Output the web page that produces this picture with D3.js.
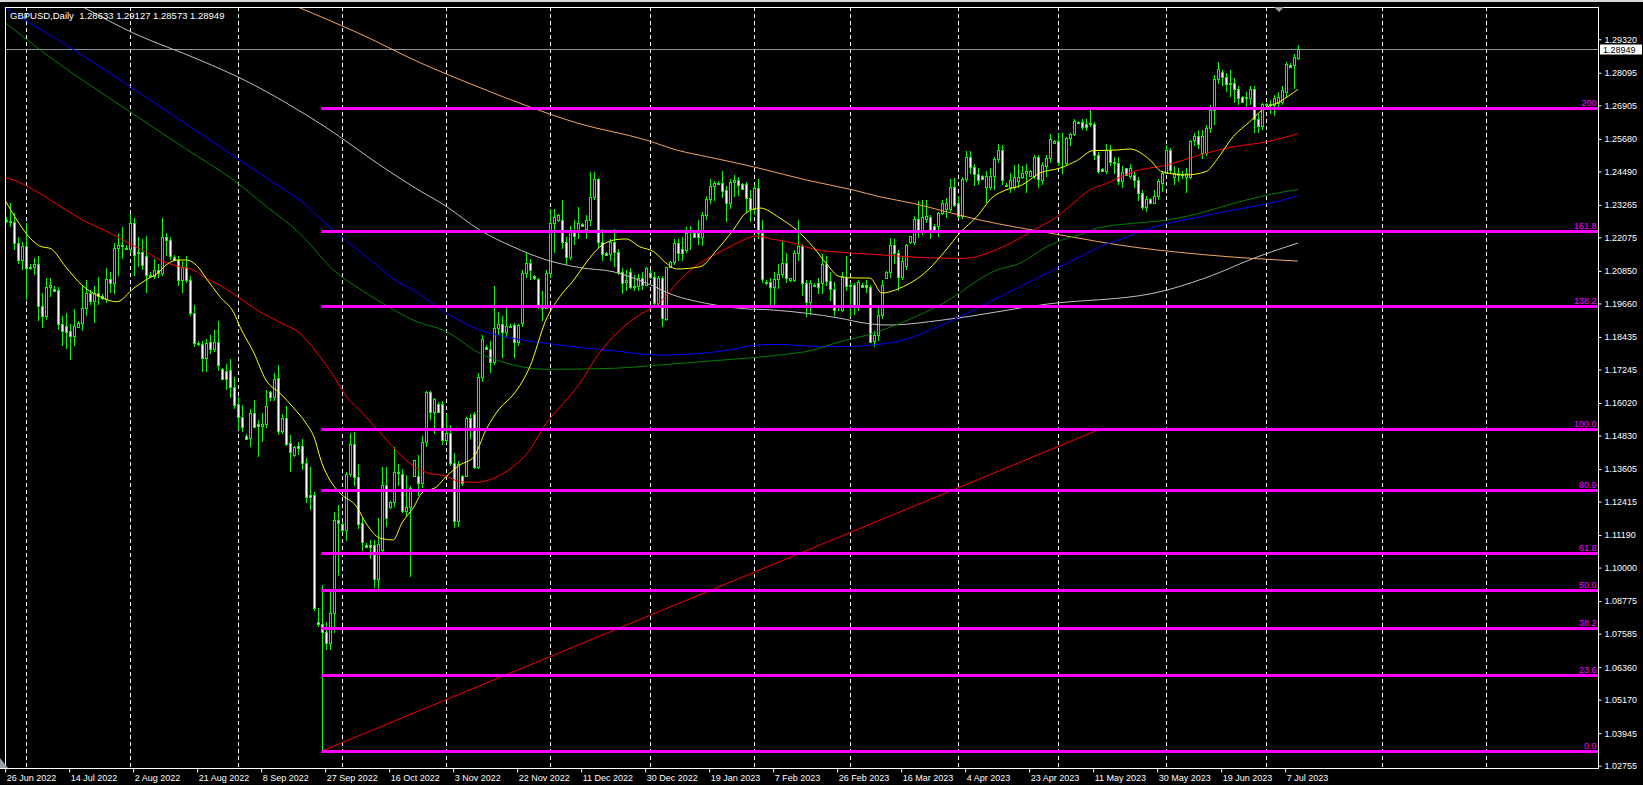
<!DOCTYPE html>
<html><head><meta charset="utf-8">
<script src="https://cdn.jsdelivr.net/npm/d3@7"></script>
<style>html,body{margin:0;padding:0;background:#000;overflow:hidden}</style>
</head><body><svg id="c" width="1643" height="785"></svg>
<script>
// ---------------- DATA ----------------
const symbolTitle = "GBPUSD,Daily";
const lastQuote = ["1.28633", "1.29127", "1.28573", "1.28949"];
const currentPrice = 1.28949;

const opens = [
1.2270,1.2268,1.2265,1.2186,1.2125,1.2177,1.2095,1.2101,1.2110,1.1956,1.1919,1.2026,
1.2020,1.2015,1.1890,1.1883,1.1865,1.1847,1.1880,1.1893,1.1950,1.2004,1.1974,1.2004,
1.1995,1.1982,1.2055,1.2040,1.2168,1.2180,1.2170,1.2165,1.2259,1.2150,1.2155,1.2140,
1.2070,1.2066,1.2089,1.2077,1.2210,1.2198,1.2135,1.2126,1.2052,1.2101,1.2052,1.1932,
1.1822,1.1818,1.1765,1.1825,1.1800,1.1825,1.1725,1.1720,1.1722,1.1661,1.1598,1.1549,
1.1481,1.1475,1.1565,1.1525,1.1518,1.1525,1.1643,1.1623,1.1692,1.1500,1.1546,1.1454,
1.1412,1.1444,1.1444,1.1383,1.1265,1.1265,1.0800,1.0793,1.0765,1.0723,1.0834,1.1174,
1.1159,1.1137,1.1341,1.1452,1.1330,1.1162,1.1082,1.1082,1.1082,1.0960,1.1064,1.1302,
1.1223,1.1241,1.1350,1.1342,1.1208,1.1223,1.1335,1.1335,1.1308,1.1458,1.1641,1.1568,
1.1598,1.1598,1.1466,1.1493,1.1381,1.1171,1.1335,1.1335,1.1546,1.1560,1.1369,1.1696,
1.1808,1.1798,1.1753,1.1875,1.1890,1.1860,1.1885,1.1887,1.1826,1.1893,1.2076,1.2115,
1.2065,1.2054,1.1960,1.1950,1.2076,1.2259,1.2270,1.2271,1.2192,1.2136,1.2234,1.2228,
1.2255,1.2240,1.2271,1.2356,1.2420,1.2192,1.2150,1.2148,1.2190,1.2155,1.2080,1.2045,
1.2082,1.2027,1.2030,1.2058,1.2035,1.2078,1.2064,1.1966,1.2058,1.1908,1.2098,1.2119,
1.2186,1.2164,1.2161,1.2222,1.2225,1.2222,1.2208,1.2289,1.2347,1.2395,1.2403,1.2405,
1.2381,1.2332,1.2411,1.2417,1.2403,1.2403,1.2350,1.2310,1.2387,1.2225,1.2043,1.2043,
1.2027,1.2054,1.2074,1.2115,1.2052,1.2052,1.2152,1.2176,1.2042,1.1972,1.2033,1.2040,
1.2040,1.2110,1.2048,1.2018,1.1956,1.1942,1.2064,1.2030,1.2033,1.1956,1.2033,1.2033,
1.2027,1.1830,1.1851,1.1924,1.2060,1.2082,1.2180,1.2152,1.2064,1.2103,1.2189,1.2189,
1.2275,1.2226,1.2275,1.2282,1.2250,1.2248,1.2297,1.2311,1.2311,1.2391,1.2333,1.2287,
1.2421,1.2500,1.2464,1.2440,1.2433,1.2392,1.2392,1.2433,1.2493,1.2527,1.2400,1.2392,
1.2392,1.2413,1.2428,1.2443,1.2433,1.2433,1.2500,1.2416,1.2469,1.2497,1.2554,1.2561,
1.2481,1.2481,1.2570,1.2585,1.2630,1.2630,1.2624,1.2627,1.2624,1.2509,1.2457,1.2452,
1.2527,1.2485,1.2481,1.2412,1.2460,1.2432,1.2436,1.2418,1.2371,1.2317,1.2347,1.2334,
1.2360,1.2405,1.2444,1.2527,1.2430,1.2444,1.2436,1.2430,1.2430,1.2562,1.2580,1.2515,
1.2515,1.2607,1.2674,1.2786,1.2813,1.2793,1.2773,1.2773,1.2749,1.2722,1.2716,1.2716,
1.2749,1.2640,1.2615,1.2694,1.2696,1.2692,1.2698,1.2704,1.2741,1.2838,1.2838,1.28633];

const highs = [
1.2282,1.2332,1.2295,1.2210,1.2190,1.2259,1.2110,1.2132,1.2140,1.2004,1.2059,1.2060,
1.2028,1.2025,1.1920,1.1932,1.1890,1.1944,1.1900,1.2034,1.2052,1.2016,1.2030,1.2064,
1.2000,1.2095,1.2080,1.2187,1.2220,1.2245,1.2180,1.2293,1.2280,1.2210,1.2200,1.2213,
1.2080,1.2130,1.2110,1.2277,1.2225,1.2210,1.2142,1.2140,1.2120,1.2140,1.2065,1.1960,
1.1828,1.1830,1.1835,1.1850,1.1870,1.1900,1.1730,1.1745,1.1763,1.1698,1.1625,1.1594,
1.1490,1.1580,1.1613,1.1540,1.1564,1.1648,1.1647,1.1712,1.1741,1.1560,1.1590,1.1485,
1.1445,1.1460,1.1470,1.1400,1.1369,1.1275,1.0851,1.0936,1.0800,1.0918,1.1204,1.1230,
1.1165,1.1350,1.1491,1.1495,1.1380,1.1180,1.1090,1.1100,1.1100,1.1180,1.1369,1.1369,
1.1245,1.1440,1.1380,1.1360,1.1340,1.1300,1.1395,1.1410,1.1480,1.1645,1.1645,1.1620,
1.1605,1.1610,1.1560,1.1520,1.1420,1.1390,1.1340,1.1550,1.1560,1.1570,1.1710,1.1850,
1.1815,1.1830,1.2030,1.1935,1.1920,1.1950,1.1890,1.1895,1.1890,1.2090,1.2150,1.2130,
1.2070,1.2060,1.2010,1.2090,1.2310,1.2310,1.2292,1.2345,1.2210,1.2250,1.2270,1.2320,
1.2262,1.2290,1.2445,1.2448,1.2425,1.2240,1.2155,1.2200,1.2240,1.2165,1.2095,1.2090,
1.2095,1.2070,1.2075,1.2080,1.2100,1.2090,1.2080,1.2065,1.2065,1.2100,1.2120,1.2200,
1.2200,1.2210,1.2245,1.2250,1.2230,1.2270,1.2300,1.2360,1.2420,1.2415,1.2412,1.2450,
1.2395,1.2420,1.2435,1.2430,1.2408,1.2410,1.2380,1.2400,1.2420,1.2270,1.2050,1.2060,
1.2080,1.2110,1.2195,1.2150,1.2060,1.2160,1.2270,1.2185,1.2050,1.2050,1.2040,1.2060,
1.2145,1.2140,1.2080,1.2045,1.1960,1.2080,1.2140,1.2045,1.2040,1.2050,1.2040,1.2050,
1.2035,1.1865,1.1960,1.2050,1.2085,1.2205,1.2200,1.2160,1.2140,1.2185,1.2212,1.2285,
1.2340,1.2345,1.2345,1.2290,1.2255,1.2300,1.2345,1.2350,1.2420,1.2425,1.2360,1.2430,
1.2525,1.2525,1.2475,1.2460,1.2436,1.2449,1.2460,1.2500,1.2549,1.2545,1.2405,1.2443,
1.2473,1.2476,1.2470,1.2476,1.2455,1.2510,1.2509,1.2485,1.2509,1.2585,1.2562,1.2590,
1.2590,1.2575,1.2590,1.2640,1.2632,1.2640,1.2640,1.2679,1.2630,1.2520,1.2460,1.2549,
1.2545,1.2500,1.2500,1.2470,1.2462,1.2475,1.2445,1.2430,1.2380,1.2360,1.2350,1.2380,
1.2420,1.2450,1.2545,1.2535,1.2470,1.2460,1.2450,1.2460,1.2565,1.2590,1.2600,1.2600,
1.2620,1.2690,1.2800,1.2848,1.2820,1.2810,1.2820,1.2790,1.2760,1.2725,1.2740,1.2760,
1.2760,1.2660,1.2700,1.2698,1.2710,1.2730,1.2740,1.2760,1.2850,1.2845,1.2880,1.29127];

const lows = [
1.2260,1.2245,1.2160,1.2110,1.2090,1.1980,1.2090,1.2070,1.1900,1.1876,1.1907,1.1990,
1.2008,1.1870,1.1811,1.1799,1.1760,1.1811,1.1875,1.1865,1.1919,1.1960,1.1893,1.1960,
1.1980,1.1968,1.2005,1.2000,1.2065,1.2130,1.2160,1.2150,1.2065,1.2100,1.2090,1.2004,
1.2062,1.2055,1.2060,1.2068,1.2140,1.2125,1.2120,1.2030,1.2005,1.2040,1.1920,1.1805,
1.1810,1.1717,1.1716,1.1780,1.1790,1.1720,1.1685,1.1650,1.1619,1.1580,1.1503,1.1497,
1.1465,1.1442,1.1510,1.1405,1.1460,1.1510,1.1610,1.1610,1.1485,1.1490,1.1445,1.1350,
1.1405,1.1410,1.1357,1.1235,1.1210,1.0840,1.0784,1.0330,1.0700,1.0700,1.0760,1.0970,
1.1130,1.1098,1.1330,1.1300,1.1140,1.1060,1.1070,1.1030,1.0925,1.0920,1.1058,1.1150,
1.1215,1.1220,1.1300,1.1200,1.1190,1.0964,1.1330,1.1260,1.1290,1.1440,1.1540,1.1490,
1.1565,1.1450,1.1455,1.1370,1.1145,1.1150,1.1300,1.1330,1.1470,1.1360,1.1360,1.1680,
1.1795,1.1710,1.1740,1.1850,1.1765,1.1840,1.1875,1.1765,1.1810,1.1880,1.2060,1.2050,
1.2050,1.1945,1.1900,1.1945,1.2060,1.2150,1.2265,1.2165,1.2105,1.2125,1.2180,1.2200,
1.2245,1.2200,1.2250,1.2345,1.2170,1.2120,1.2138,1.2120,1.2100,1.2070,1.2000,1.2010,
1.2020,1.2010,1.2010,1.2015,1.2030,1.2055,1.1955,1.1960,1.1880,1.1900,1.2095,1.2105,
1.2120,1.2120,1.2150,1.2160,1.2205,1.2180,1.2175,1.2270,1.2330,1.2340,1.2398,1.2350,
1.2265,1.2310,1.2355,1.2360,1.2380,1.2300,1.2265,1.2290,1.2200,1.2040,1.2035,1.1960,
1.1960,1.2020,1.2060,1.2040,1.2045,1.2045,1.2120,1.1995,1.1915,1.1925,1.2025,1.2000,
1.2000,1.2030,1.1975,1.1920,1.1940,1.1935,1.2010,1.1915,1.1925,1.1940,1.2025,1.2005,
1.1820,1.1805,1.1830,1.1910,1.2055,1.2060,1.2110,1.2010,1.2050,1.2090,1.2185,1.2180,
1.2205,1.2215,1.2260,1.2200,1.2226,1.2210,1.2290,1.2280,1.2300,1.2320,1.2280,1.2275,
1.2410,1.2440,1.2395,1.2400,1.2418,1.2333,1.2380,1.2380,1.2480,1.2400,1.2395,1.2370,
1.2380,1.2390,1.2420,1.2370,1.2430,1.2420,1.2390,1.2400,1.2430,1.2480,1.2550,1.2470,
1.2440,1.2470,1.2540,1.2580,1.2625,1.2600,1.2595,1.2610,1.2490,1.2440,1.2445,1.2440,
1.2470,1.2440,1.2400,1.2390,1.2434,1.2420,1.2390,1.2340,1.2308,1.2300,1.2330,1.2330,
1.2345,1.2375,1.2440,1.2440,1.2400,1.2410,1.2420,1.2370,1.2420,1.2540,1.2530,1.2495,
1.2505,1.2590,1.2620,1.2770,1.2760,1.2740,1.2720,1.2700,1.2690,1.2700,1.2680,1.2690,
1.2590,1.2590,1.2600,1.2688,1.2660,1.2650,1.2680,1.2690,1.2720,1.2830,1.2749,1.28573];

const closes = [
1.2268,1.2265,1.2186,1.2125,1.2177,1.2095,1.2101,1.2110,1.1956,1.1919,1.2026,1.2034,
1.2012,1.1890,1.1865,1.1862,1.1847,1.1883,1.1893,1.1950,1.2004,1.1974,1.2004,1.1992,
1.1985,1.2055,1.2040,1.2168,1.2180,1.2175,1.2165,1.2259,1.2144,1.2155,1.2107,1.2071,
1.2066,1.2089,1.2077,1.2210,1.2198,1.2138,1.2126,1.2052,1.2101,1.2052,1.1932,1.1822,
1.1818,1.1765,1.1820,1.1800,1.1825,1.1741,1.1690,1.1688,1.1661,1.1594,1.1549,1.1513,
1.1471,1.1565,1.1515,1.1518,1.1525,1.1591,1.1623,1.1688,1.1500,1.1546,1.1452,1.1424,
1.1440,1.1436,1.1381,1.1257,1.1257,1.0851,1.0792,1.0765,1.0723,1.0834,1.1174,1.1162,
1.1137,1.1341,1.1451,1.1330,1.1160,1.1094,1.1076,1.1074,1.0960,1.1088,1.1302,1.1180,
1.1241,1.1351,1.1345,1.1208,1.1223,1.1290,1.1393,1.1308,1.1458,1.1641,1.1568,1.1615,
1.1568,1.1466,1.1493,1.1381,1.1171,1.1380,1.1308,1.1546,1.1503,1.1369,1.1696,1.1835,
1.1800,1.1753,1.1875,1.1890,1.1860,1.1885,1.1880,1.1826,1.1887,1.2076,1.2115,1.2090,
1.2058,1.1960,1.1950,1.2076,1.2259,1.2282,1.2290,1.2192,1.2136,1.2234,1.2214,1.2259,
1.2250,1.2271,1.2356,1.2420,1.2192,1.2148,1.2142,1.2190,1.2155,1.2080,1.2040,1.2052,
1.2027,1.2030,1.2058,1.2035,1.2094,1.2064,1.1966,1.2058,1.1912,1.2098,1.2119,1.2186,
1.2152,1.2152,1.2222,1.2225,1.2208,1.2208,1.2289,1.2347,1.2395,1.2405,1.2407,1.2378,
1.2332,1.2411,1.2417,1.2399,1.2383,1.2350,1.2310,1.2387,1.2225,1.2054,1.2040,1.2027,
1.2054,1.2074,1.2115,1.2058,1.2058,1.2152,1.2176,1.2042,1.1972,1.2042,1.2030,1.2027,
1.2110,1.2049,1.2018,1.1942,1.1952,1.2064,1.2030,1.2035,1.1956,1.2045,1.2027,1.2027,
1.1826,1.1851,1.1924,1.2033,1.2082,1.2180,1.2152,1.2064,1.2120,1.2180,1.2211,1.2275,
1.2226,1.2282,1.2285,1.2229,1.2228,1.2297,1.2333,1.2333,1.2391,1.2327,1.2287,1.2421,
1.2500,1.2464,1.2440,1.2416,1.2421,1.2433,1.2433,1.2493,1.2527,1.2416,1.2397,1.2416,
1.2428,1.2428,1.2443,1.2449,1.2452,1.2500,1.2421,1.2473,1.2497,1.2566,1.2561,1.2485,
1.2478,1.2570,1.2585,1.2632,1.2627,1.2612,1.2612,1.2624,1.2509,1.2449,1.2452,1.2527,
1.2485,1.2481,1.2412,1.2448,1.2436,1.2460,1.2418,1.2371,1.2317,1.2347,1.2334,1.2360,
1.2412,1.2444,1.2527,1.2454,1.2444,1.2436,1.2440,1.2444,1.2560,1.2580,1.2549,1.2580,
1.2607,1.2674,1.2786,1.2822,1.2793,1.2769,1.2769,1.2749,1.2716,1.2704,1.2722,1.2749,
1.2641,1.2615,1.2694,1.2692,1.2692,1.2719,1.2722,1.2745,1.2842,1.2832,1.2866,1.28949];

// moving averages as [bar, price]
const maYellow = [[0,1.2338],[9,1.2173],[11,1.2168],[15,1.2099],[19,1.2033],[23.5,1.1991],[27.7,1.1972],[32,1.2022],[35,1.2052],[38,1.2077],[40,1.2106],[43,1.2125],[45,1.2125],[48,1.2100],[50,1.2059],[53.5,1.1991],[57,1.1931],[58.5,1.1881],[62,1.1785],[65,1.1686],[68.5,1.1638],[72,1.1583],[75,1.1529],[77,1.1478],[79,1.1382],[81,1.1320],[83.5,1.1273],[87.7,1.1222],[90,1.1163],[93.5,1.1108],[96.8,1.1101],[99,1.1163],[102,1.1222],[104,1.1273],[107.7,1.1296],[110,1.1332],[113.5,1.1375],[117,1.1405],[120,1.1503],[123.5,1.1583],[127,1.1635],[131,1.1735],[135,1.1905],[138.5,1.1991],[142,1.2052],[145,1.2114],[148.5,1.2173],[152,1.2198],[155,1.2202],[158.5,1.2173],[162,1.2155],[165,1.2114],[167.7,1.2092],[173.5,1.2100],[177.7,1.2161],[181.8,1.2234],[185,1.2297],[188.5,1.2315],[193.5,1.2278],[197.7,1.2234],[201.8,1.2173],[205,1.2114],[208.5,1.2064],[212.7,1.2059],[216,1.2059],[219,1.2004],[223.5,1.2022],[230.5,1.2088],[235,1.2161],[238.5,1.2224],[242.7,1.2283],[246.8,1.2356],[250,1.2381],[254,1.2399],[258.5,1.2443],[263.5,1.2461],[267.7,1.2488],[271.8,1.2525],[277.7,1.2527],[281,1.2531],[286,1.2491],[289,1.2448],[295,1.2436],[300,1.2448],[302.7,1.2491],[306.8,1.2576],[311,1.2631],[314,1.2673],[318.5,1.2704],[323,1.2749]];
const maRed = [[0,1.2425],[2,1.2417],[7,1.2381],[15,1.2308],[20,1.2265],[26,1.2224],[30,1.2192],[35,1.2155],[38.5,1.2125],[43.5,1.2100],[47,1.2088],[50,1.2058],[53.5,1.2033],[58.5,1.1985],[63.5,1.1936],[69,1.1893],[73.5,1.1857],[77.5,1.1790],[82,1.1700],[84.3,1.1643],[90,1.1552],[96,1.1454],[100,1.1393],[105.2,1.1347],[110,1.1335],[113.5,1.1314],[117.7,1.1312],[121.8,1.1326],[126.8,1.1369],[131,1.1430],[135,1.1527],[139.4,1.1601],[143.5,1.1674],[147.7,1.1771],[151.8,1.1844],[157.7,1.1917],[163.5,1.1970],[168.5,1.2052],[173.5,1.2113],[179.4,1.2161],[183.5,1.2192],[187.7,1.2213],[191.8,1.2200],[194.3,1.2195],[198.5,1.2180],[201.9,1.2165],[208.5,1.2153],[215.2,1.2147],[223.5,1.2139],[231,1.2133],[240.2,1.2131],[245.2,1.2149],[251.9,1.2192],[256.9,1.2234],[262.7,1.2283],[266.8,1.2332],[271,1.2381],[275.2,1.2405],[281.8,1.2448],[290.2,1.2472],[298.5,1.2509],[306.9,1.2539],[315.2,1.2557],[323,1.2587]];
const maGreen = [[0,1.2991],[12,1.2856],[30,1.2677],[45,1.2531],[56.9,1.2417],[65.2,1.2320],[73.5,1.2222],[81.9,1.2088],[90.2,1.2003],[98.5,1.1930],[101.8,1.1905],[110.2,1.1863],[118.5,1.1783],[122.7,1.1759],[126.8,1.1741],[135.2,1.1725],[151.9,1.1729],[163.5,1.1741],[180,1.1760],[192,1.1775],[201.9,1.1796],[208.5,1.1826],[216.9,1.1857],[223.5,1.1893],[234,1.1964],[247.7,1.2088],[253.5,1.2113],[260.2,1.2173],[265.2,1.2204],[269.4,1.2222],[272.7,1.2241],[281.8,1.2259],[290.2,1.2271],[298.5,1.2296],[306.9,1.2332],[315.2,1.2362],[323,1.2383]];
const maBlue = [[0,1.3045],[21,1.2856],[35,1.2721],[50,1.2574],[66,1.2417],[73.5,1.2344],[81.9,1.2234],[90.2,1.2137],[98.5,1.2040],[101.8,1.2015],[110.2,1.1930],[118.5,1.1869],[126.8,1.1838],[135.2,1.1820],[143.5,1.1805],[151.8,1.1793],[163.5,1.1777],[181,1.1796],[187.7,1.1814],[193.5,1.1816],[200.2,1.1810],[208.5,1.1808],[216.8,1.1814],[223.5,1.1829],[234,1.1887],[250,1.2002],[261.8,1.2088],[268.5,1.2137],[272.7,1.2168],[278.5,1.2200],[286,1.2241],[298.5,1.2283],[306.9,1.2308],[315.2,1.2330],[323,1.2359]];
const maSilver = [[19.4,1.3049],[32,1.2954],[48.5,1.2856],[60,1.2780],[70,1.2700],[80,1.2610],[93.5,1.2472],[101.8,1.2393],[110.2,1.2320],[118.5,1.2234],[126.8,1.2173],[135.2,1.2125],[143.5,1.2097],[151.8,1.2082],[160.2,1.2040],[166.8,1.1997],[175.2,1.1966],[183.5,1.1948],[191.8,1.1942],[200.2,1.1930],[208.5,1.1912],[215.2,1.1893],[221,1.1887],[234,1.1905],[260.5,1.1964],[286.8,1.2003],[300,1.2060],[313,1.2137],[323,1.2187]];
const maOrange = [[73,1.3050],[90,1.2942],[103,1.2850],[116,1.2770],[130,1.2690],[143,1.2625],[160.2,1.2563],[167.7,1.2527],[175.2,1.2503],[186.8,1.2466],[200.2,1.2417],[211.8,1.2381],[218.5,1.2356],[226.8,1.2332],[235.2,1.2301],[243.5,1.2271],[251.8,1.2247],[260.2,1.2225],[268.5,1.2204],[276.8,1.2183],[299.8,1.2144],[323,1.2121]];

// Fibonacci expansion levels
const fibLabels = ["0.0","23.6","38.2","50.0","61.8","80.9","100.0","138.2","161.8","200"];
const fibPrices = [1.0329,1.0607,1.0779,1.0918,1.1054,1.1284,1.1506,1.1957,1.2231,1.2680];
const fibStartBar = 79;
const trendPoints = [[79,1.0329],[273.5,1.1506]];

// axes
const priceTicks = [1.29320,1.28095,1.26905,1.25680,1.24490,1.23265,1.22075,1.20850,1.19660,1.18435,1.17245,1.16020,1.14830,1.13605,1.12415,1.11190,1.10000,1.08775,1.07585,1.06360,1.05170,1.03945,1.02755];
const dateLabels = ["26 Jun 2022","14 Jul 2022","2 Aug 2022","21 Aug 2022","8 Sep 2022","27 Sep 2022","16 Oct 2022","3 Nov 2022","22 Nov 2022","11 Dec 2022","30 Dec 2022","19 Jan 2023","7 Feb 2023","26 Feb 2023","16 Mar 2023","4 Apr 2023","23 Apr 2023","11 May 2023","30 May 2023","19 Jun 2023","7 Jul 2023"];
const dateTickBars = [0,16,32,48,64,80,96,112,128,144,160,176,192,208,224,240,256,272,288,304,320];
const monthGridBars = [5,31,58,84,110,136,161,187,211,238,263,290,315,344,370];

// ---------------- DRAW ----------------
const W = 1643, H = 785;
const L = 5, R = 1598, T = 7, B = 768;
const svg = d3.select('#c');
const FONT = '"Liberation Sans", Arial, sans-serif';

const x = d3.scaleLinear().domain([0, 323]).range([5.9, 1297.9]);
const y = d3.scaleLinear().domain([1.02755, 1.29320]).range([765.7, 39.3]);

svg.append('rect').attr('width', W).attr('height', H).attr('fill', '#000');
svg.append('rect').attr('x', 0).attr('y', 0).attr('width', W).attr('height', 2).attr('fill', '#d8d8d8');

svg.append('defs').append('clipPath').attr('id', 'plot')
  .append('rect').attr('x', L).attr('y', T).attr('width', R - L).attr('height', B - T);
const plot = svg.append('g').attr('clip-path', 'url(#plot)');

// vertical dashed grid
plot.selectAll('line.grid').data(monthGridBars).join('line')
  .attr('class', 'grid')
  .attr('x1', d => Math.round(x(d)) + 0.5).attr('x2', d => Math.round(x(d)) + 0.5)
  .attr('y1', T).attr('y2', B)
  .attr('stroke', '#ffffff').attr('stroke-width', 1).attr('stroke-dasharray', '4,3');

// current price line
plot.append('line').attr('x1', L).attr('x2', R)
  .attr('y1', Math.round(y(currentPrice)) + 0.5).attr('y2', Math.round(y(currentPrice)) + 0.5)
  .attr('stroke', '#8c96a0').attr('stroke-width', 1);

// candles
const bars = d3.range(opens.length).map(i => ({i, o: opens[i], h: highs[i], l: lows[i], c: closes[i]}));
const cg = plot.append('g').attr('shape-rendering', 'crispEdges');
cg.selectAll('line.wick').data(bars).join('line')
  .attr('class', 'wick')
  .attr('x1', d => Math.round(x(d.i)) + 0.5).attr('x2', d => Math.round(x(d.i)) + 0.5)
  .attr('y1', d => y(d.h)).attr('y2', d => y(d.l))
  .attr('stroke', '#00ff00').attr('stroke-width', 1);
cg.selectAll('rect.body').data(bars).join('rect')
  .attr('class', 'body')
  .attr('x', d => Math.round(x(d.i)) - 0.5)
  .attr('y', d => Math.round(y(Math.max(d.o, d.c))) + 0.5)
  .attr('width', 2)
  .attr('height', d => Math.max(0, Math.round(y(Math.min(d.o, d.c))) - Math.round(y(Math.max(d.o, d.c)))))
  .attr('fill', d => d.c < d.o ? '#ffffff' : '#000000')
  .attr('stroke', '#00ff00').attr('stroke-width', 1);

// moving averages
const lineGen = d3.line().x(d => x(d[0])).y(d => y(d[1])).curve(d3.curveMonotoneX);
const maSeries = [
  {data: maOrange, color: '#f4a460'},
  {data: maSilver, color: '#c0c0c0'},
  {data: maBlue, color: '#0000ff'},
  {data: maGreen, color: '#008000'},
  {data: maRed, color: '#ff0000'},
  {data: maYellow, color: '#ffff00'}
];
plot.selectAll('path.ma').data(maSeries).join('path')
  .attr('class', 'ma')
  .attr('d', d => lineGen(d.data))
  .attr('fill', 'none').attr('stroke', d => d.color).attr('stroke-width', 1);

// trend line of the expansion
plot.append('path').attr('d', d3.line().x(d => x(d[0])).y(d => y(d[1]))(trendPoints))
  .attr('fill', 'none').attr('stroke', '#ff0000').attr('stroke-width', 1);

// fibonacci levels
const fib = fibPrices.map((p, k) => ({p, label: fibLabels[k]}));
plot.selectAll('line.fib').data(fib).join('line')
  .attr('class', 'fib')
  .attr('x1', x(fibStartBar) - 0.5).attr('x2', R)
  .attr('y1', d => Math.round(y(d.p)) + 0.5).attr('y2', d => Math.round(y(d.p)) + 0.5)
  .attr('stroke', '#ff00ff').attr('stroke-width', 3);
plot.selectAll('text.fib').data(fib).join('text')
  .attr('class', 'fib')
  .attr('x', R - 1.5).attr('y', d => Math.round(y(d.p)) - 2)
  .attr('text-anchor', 'end')
  .attr('fill', '#ff00ff')
  .style('font-family', FONT).style('font-size', '9px')
  .text(d => d.label);

// frame
const fg = svg.append('g').attr('shape-rendering', 'crispEdges');
fg.append('line').attr('x1', L).attr('x2', R + 1).attr('y1', T + 0.5).attr('y2', T + 0.5).attr('stroke', '#fff');
fg.append('line').attr('x1', L + 0.5).attr('x2', L + 0.5).attr('y1', T).attr('y2', B).attr('stroke', '#fff');
fg.append('line').attr('x1', R + 0.5).attr('x2', R + 0.5).attr('y1', T).attr('y2', B + 1).attr('stroke', '#fff');
fg.append('line').attr('x1', 0).attr('x2', R + 1).attr('y1', B + 0.5).attr('y2', B + 0.5).attr('stroke', '#fff');

// price axis
const yAxis = d3.axisRight(y).tickValues(priceTicks).tickSize(3).tickPadding(3).tickFormat(d3.format('.5f'));
const gy = svg.append('g').attr('transform', `translate(${R + 0.5},0)`).call(yAxis);
gy.select('.domain').remove();
gy.selectAll('line').attr('stroke', '#fff');
gy.selectAll('text').attr('fill', '#fff').style('font-family', FONT).style('font-size', '9px');

// date axis
const xAxis = d3.axisBottom(x).tickValues(dateTickBars).tickSize(4).tickPadding(2)
  .tickFormat((d, k) => dateLabels[k]);
const gx = svg.append('g').attr('transform', `translate(-0.7,${B + 0.5})`).call(xAxis);
gx.select('.domain').remove();
gx.selectAll('line').attr('stroke', '#fff');
gx.selectAll('text').attr('fill', '#fff').attr('text-anchor', 'start').attr('x', 1)
  .style('font-family', FONT).style('font-size', '9px');

// current price label
const cy = Math.round(y(currentPrice));
svg.append('rect').attr('x', R + 2).attr('y', cy - 4.5).attr('width', 42).attr('height', 10).attr('fill', '#fff');
svg.append('text').attr('x', R + 5).attr('y', cy + 3.5).attr('fill', '#000')
  .style('font-family', FONT).style('font-size', '9px').text(d3.format('.5f')(currentPrice));

// header
svg.append('text').attr('x', 10).attr('y', 19).attr('fill', '#fff')
  .attr('xml:space', 'preserve').style('white-space', 'pre')
  .style('font-family', FONT).style('font-size', '9.5px')
  .text(symbolTitle + '  ' + lastQuote.join(' '));

// small markers
svg.append('path').attr('d', 'M1274,7 L1284,7 L1279,12 Z').attr('fill', '#9aa0a8');
svg.append('path').attr('d', 'M0,758 L0,768 L8,768 Z').attr('fill', '#9aa0a8');
</script></body></html>
